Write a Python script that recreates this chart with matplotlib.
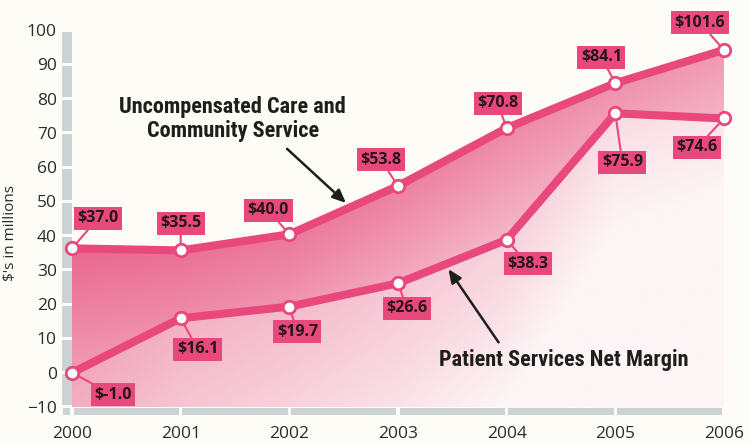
import numpy as np
import matplotlib
matplotlib.use("Agg")
import matplotlib.pyplot as plt
from matplotlib.colors import LinearSegmentedColormap
from matplotlib.patches import PathPatch, Rectangle

# datos
years = [2000, 2001, 2002, 2003, 2004, 2005, 2006]
# altura dibujada de cada punto (la grafica original no respeta del todo las etiquetas)
uncomp_plot = [36.3, 35.7, 40.4, 54.5, 71.4, 84.5, 94.2]
margin_plot = [0.0, 15.9, 19.3, 26.1, 38.8, 75.7, 74.2]
uncomp_labels = ["$37.0", "$35.5", "$40.0", "$53.8", "$70.8", "$84.1", "$101.6"]
margin_labels = ["$-1.0", "$16.1", "$19.7", "$26.6", "$38.3", "$75.9", "$74.6"]
y_ticks = list(range(-10, 101, 10))

# desplazamiento de cada caja (pixeles)
uncomp_off = [(26, 30), (0, 27), (-21, 24), (-17, 26), (-9, 25), (-14, 26), (-24, 27)]
margin_off = [(41, -22), (17, -31), (8, -25), (9, -25), (21, -24), (7, -49), (-27, -29)]

PINK = "#e8487c"
GRAY_BAR = "#cbd3d4"
BG = "#fdfcf6"
TXT = "#2b2b2b"
SANS = ["Open Sans", "DejaVu Sans"]
COND = ["Liberation Sans Narrow", "DejaVu Sans Condensed", "Roboto Condensed", "DejaVu Sans"]

fig = plt.figure(figsize=(7.5, 4.44), dpi=100, facecolor=BG)
ax = fig.add_axes([0.096, 0.0833, 0.8693, 0.849])
ax.set_facecolor(BG)
ax.set_xlim(2000, 2006)
ax.set_ylim(-10, 100)

x = np.array(years, dtype=float)
up = np.array(uncomp_plot)
lo = np.array(margin_plot)


def gradient_fill(y1, y2, c0, c1, wx, wd):
    # degradado: oscuro arriba a la izquierda, claro abajo a la derecha
    poly = ax.fill_between(x, y1, y2, color="none", lw=0)
    patch = PathPatch(poly.get_paths()[0], transform=ax.transData,
                      facecolor="none", edgecolor="none")
    ax.add_patch(patch)
    gx, gy = np.meshgrid(np.linspace(2000, 2006, 300), np.linspace(-10, 100, 300))
    top = np.interp(gx, x, y2)
    d = (top - gy) / 40.0
    t = np.clip(wx * (gx - 2000) / 6 + wd * d, 0, 1)
    cmap = LinearSegmentedColormap.from_list("g", [c0, c1])
    im = ax.imshow(t, extent=[2000, 2006, -10, 100], origin="lower",
                   aspect="auto", cmap=cmap, vmin=0, vmax=1, zorder=1)
    im.set_clip_path(patch)


gradient_fill(lo, up, "#ea6790", "#f6c0cf", 0.55, 0.65)
gradient_fill(np.full_like(x, -10), lo, "#f2a6bc", "#fdf5f6", 0.8, 0.4)

# barras grises del eje (segmentadas)
bw = 0.092
for v in range(-10, 100, 10):
    ax.add_patch(Rectangle((2000 - bw, v + 0.45), bw, 10 - 0.9, color=GRAY_BAR,
                           clip_on=False, zorder=0, lw=0))
ax.add_patch(Rectangle((2000 - 0.085, -12.4), 0.07, 2.0, color=GRAY_BAR,
                       clip_on=False, zorder=0, lw=0))
for a in years[:-1]:
    ax.add_patch(Rectangle((a + 0.015, -12.4), 1 - 0.03, 2.0, color=GRAY_BAR,
                           clip_on=False, zorder=0, lw=0))

# lineas
for yv in (up, lo):
    ax.plot(x, yv, color=PINK, lw=5.8, zorder=3, solid_capstyle="round",
            solid_joinstyle="round", clip_on=False)


# etiquetas de valores
def put_labels(yv, labels, offs):
    for xi, yi, lab, (dx, dy) in zip(x, yv, labels, offs):
        ax.annotate(lab, xy=(xi, yi), xytext=(dx, dy), textcoords="offset pixels",
                    ha="center", va="center", fontsize=11.5, fontweight="bold",
                    family=SANS, color="#24161b", zorder=4,
                    bbox=dict(boxstyle="square,pad=0.22", fc=PINK, ec="none"),
                    arrowprops=dict(arrowstyle="-", color=PINK, lw=1.5,
                                    shrinkA=0, shrinkB=0),
                    annotation_clip=False)


put_labels(up, uncomp_labels, uncomp_off)
put_labels(lo, margin_labels, margin_off)

for yv in (up, lo):
    ax.plot(x, yv, "o", ms=9, mfc="white", mec=PINK, mew=2, zorder=5, clip_on=False)

# textos de las series con flecha
ax.annotate("", xy=(2002.54, 49.0), xytext=(2001.96, 65.9),
            arrowprops=dict(arrowstyle="-|>,head_length=0.8,head_width=0.35",
                            color="#1e1e1a", lw=1.8), zorder=6)
ax.text(2001.48, 74.0, "Uncompensated Care and\nCommunity Service", ha="center",
        va="center", fontsize=16, fontweight="bold", family=COND, color="#1e1e1a",
        linespacing=1.15, zorder=6)
ax.annotate("", xy=(2003.45, 30.9), xytext=(2003.94, 8.2),
            arrowprops=dict(arrowstyle="-|>,head_length=0.8,head_width=0.35",
                            color="#1e1e1a", lw=1.8), zorder=6)
ax.text(2004.53, 3.8, "Patient Services Net Margin", ha="center", va="center",
        fontsize=16, fontweight="bold", family=COND, color="#1e1e1a", zorder=6)

# ejes
for s in ax.spines.values():
    s.set_visible(False)
ax.set_xticks(years)
ax.set_xticklabels([str(a) for a in years])
ax.set_yticks(y_ticks)
ax.tick_params(axis="both", length=0, labelsize=12.5, labelcolor=TXT)
ax.tick_params(axis="y", pad=11)
ax.tick_params(axis="x", pad=14)
for t in ax.get_xticklabels() + ax.get_yticklabels():
    t.set_family(SANS)

fig.text(0.014, 1 - 233 / 444, "$'s in millions", rotation=90, ha="center", va="center",
         fontsize=11, color=TXT, family=SANS)

fig.savefig("out.png", dpi=100, facecolor=BG)
